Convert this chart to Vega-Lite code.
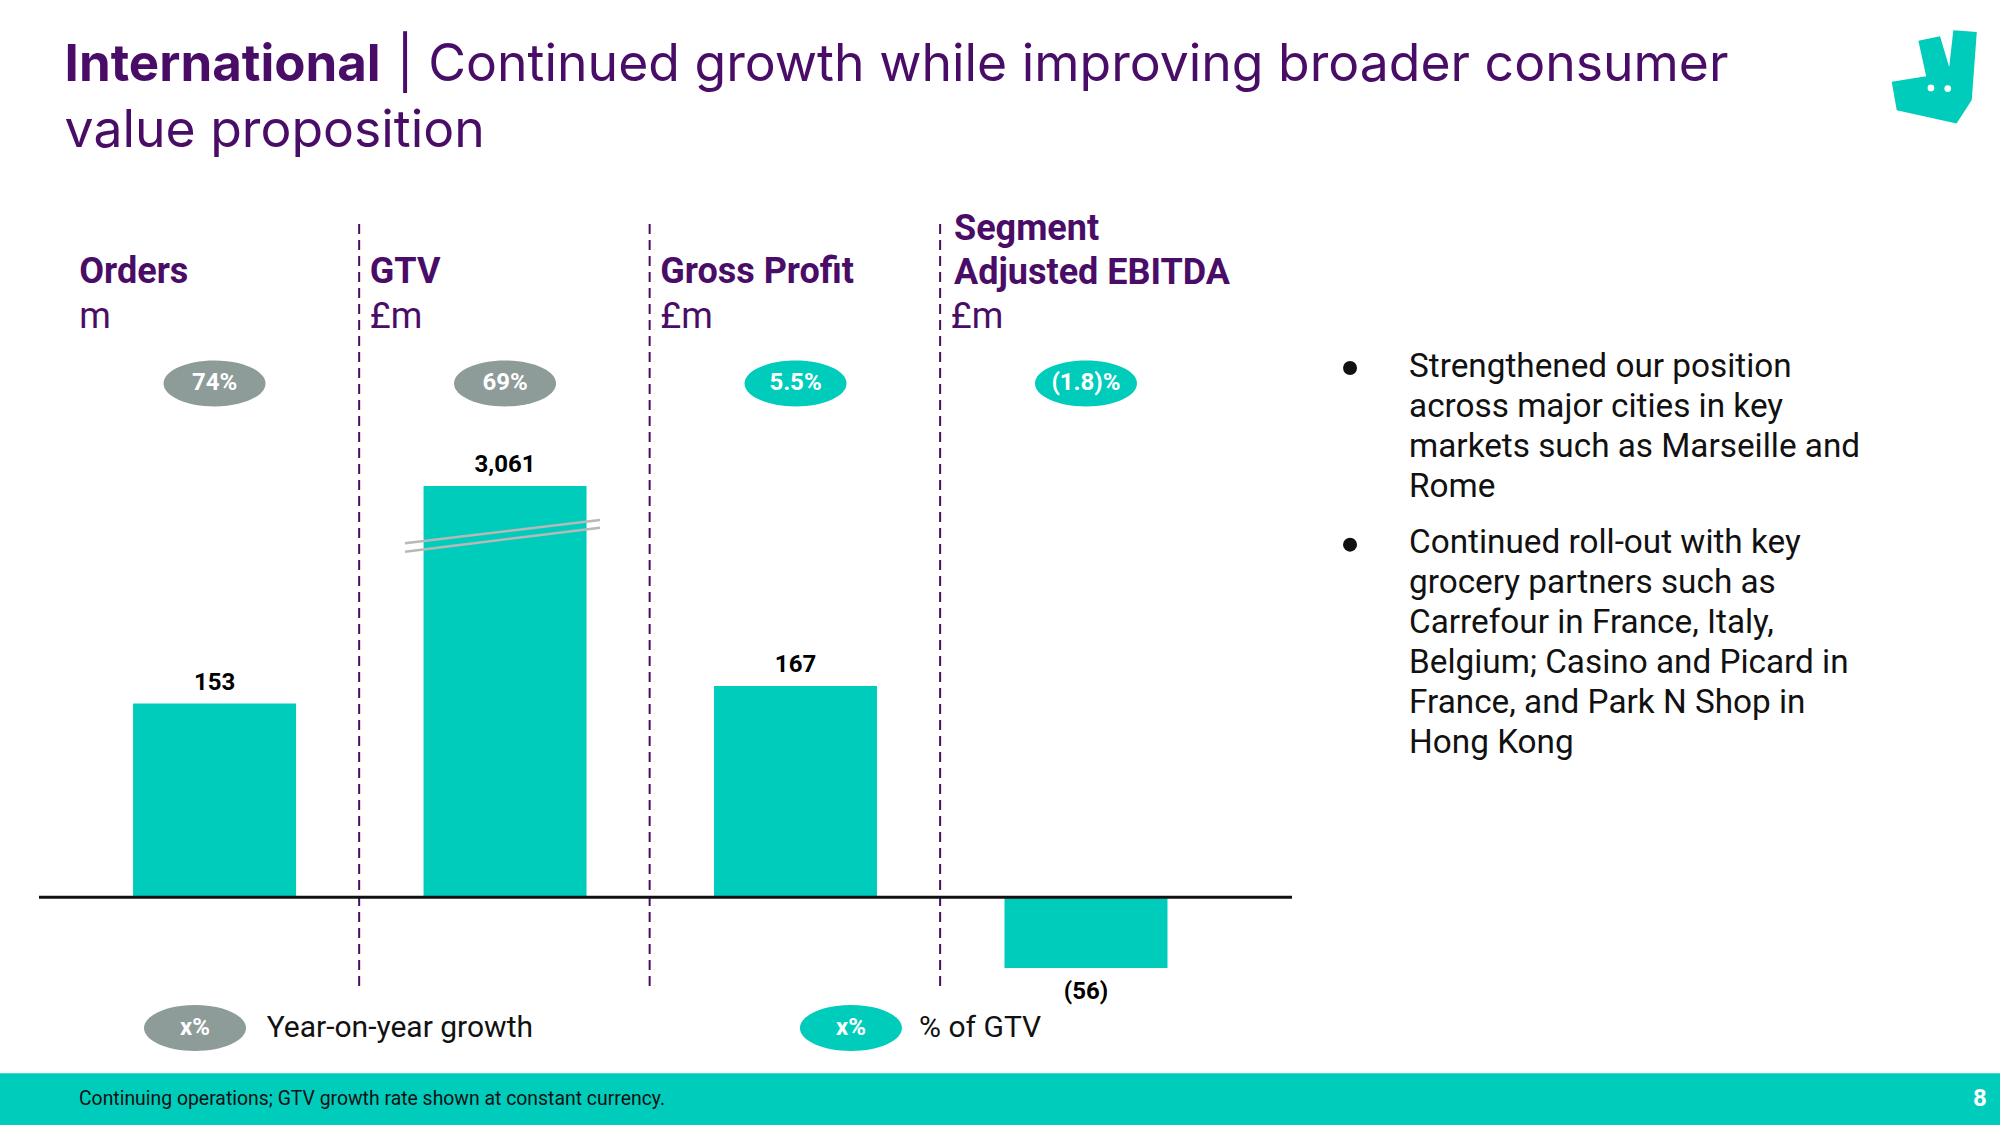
{
  "$schema": "https://vega.github.io/schema/vega-lite/v6.json",
  "width": 2000,
  "height": 1125,
  "autosize": {"type": "none"},
  "padding": 0,
  "background": "#ffffff",
  "config": {"view": {"stroke": null}, "font": "Roboto"},
  "datasets": {
    "metrics": [
      {"metric": "Orders", "header": ["Orders"], "unit": "m", "value": 153, "plotted": 153, "pill": "74%", "pillType": "Year-on-year growth"},
      {"metric": "GTV", "header": ["GTV"], "unit": "£m", "value": 3061, "plotted": 325, "pill": "69%", "pillType": "Year-on-year growth"},
      {"metric": "Gross Profit", "header": ["Gross Profit"], "unit": "£m", "value": 167, "plotted": 167, "pill": "5.5%", "pillType": "% of GTV"},
      {"metric": "Segment Adjusted EBITDA", "header": ["Segment", "Adjusted EBITDA"], "unit": "£m", "value": -56, "plotted": -56, "pill": "(1.8)%", "pillType": "% of GTV"}
    ]
  },
  "data": {"name": "metrics"},
  "layer": [
    {
      "data": {"values": [{"band": "footer"}]},
      "mark": {"type": "rect", "color": "#00CCBC"},
      "encoding": {
        "y": {"datum": -139.2, "type": "quantitative", "scale": {"domain": [-180, 709], "nice": false, "zero": false}, "axis": null},
        "y2": {"datum": -180}
      }
    },
    {
      "mark": {"type": "bar", "color": "#00CCBC"},
      "encoding": {
        "x": {"field": "metric", "type": "nominal", "sort": null, "axis": null,
              "scale": {"type": "band", "domain": ["Orders", "GTV", "Gross Profit", "Segment Adjusted EBITDA"], "range": [133.06, 1167.49], "paddingInner": 0.4389, "paddingOuter": 0, "align": 0.5}},
        "y": {"field": "plotted", "type": "quantitative"}
      }
    },
    {
      "data": {"values": [{"note": "Continuing operations; GTV growth rate shown at constant currency."}]},
      "mark": {"type": "text", "align": "left", "baseline": "alphabetic", "fontSize": 19.4, "color": "#111111"},
      "encoding": {
        "x": {"datum": "Orders", "type": "nominal", "bandPosition": -0.332},
        "y": {"datum": -164.2, "type": "quantitative"},
        "text": {"field": "note"}
      }
    },
    {
      "data": {"values": [{"page": "8"}]},
      "mark": {"type": "text", "align": "center", "baseline": "alphabetic", "fontSize": 24, "fontWeight": "bold", "color": "#ffffff"},
      "encoding": {
        "x": {"datum": "Segment Adjusted EBITDA", "type": "nominal", "bandPosition": 5.985},
        "y": {"datum": -164.8, "type": "quantitative"},
        "text": {"field": "page"}
      }
    },
    {
      "data": {"values": [{"t": "International"}]},
      "mark": {"type": "text", "align": "left", "baseline": "alphabetic", "font": "Inter", "fontSize": 51, "fontWeight": 700, "color": "#4a0d67"},
      "encoding": {
        "x": {"datum": "Orders", "type": "nominal", "bandPosition": -0.42},
        "y": {"datum": 645.0, "type": "quantitative"},
        "text": {"field": "t"}
      }
    },
    {
      "data": {"values": [{"t": "| Continued growth while improving broader consumer"}]},
      "mark": {"type": "text", "align": "left", "baseline": "alphabetic", "font": "Inter", "fontSize": 51.7, "fontWeight": 400, "color": "#4a0d67", "dx": 332},
      "encoding": {
        "x": {"datum": "Orders", "type": "nominal", "bandPosition": -0.42},
        "y": {"datum": 645.0, "type": "quantitative"},
        "text": {"field": "t"}
      }
    },
    {
      "data": {"values": [{"t": "value proposition"}]},
      "mark": {"type": "text", "align": "left", "baseline": "alphabetic", "font": "Inter", "fontSize": 51.7, "fontWeight": 400, "color": "#4a0d67"},
      "encoding": {
        "x": {"datum": "Orders", "type": "nominal", "bandPosition": -0.42},
        "y": {"datum": 593.0, "type": "quantitative"},
        "text": {"field": "t"}
      }
    },
    {
      "transform": [{"filter": "datum.metric !== 'Orders'"}],
      "mark": {"type": "rule", "color": "#4a0d67", "strokeWidth": 2, "strokeDash": [10, 6]},
      "encoding": {
        "x": {"field": "metric", "type": "nominal", "bandPosition": -0.395},
        "y": {"datum": 532, "type": "quantitative"},
        "y2": {"datum": -73}
      }
    },
    {
      "data": {"values": [{"line": "axis"}]},
      "mark": {"type": "rule", "color": "#111111", "strokeWidth": 3},
      "encoding": {
        "x": {"datum": "Orders", "type": "nominal", "bandPosition": -0.577},
        "x2": {"datum": "Segment Adjusted EBITDA", "bandPosition": 1.764},
        "y": {"datum": 0, "type": "quantitative"}
      }
    },
    {
      "data": {"values": [{"line": "break1"}]},
      "mark": {"type": "rule", "color": "#b8b8b8", "strokeWidth": 2.5},
      "encoding": {
        "x": {"datum": "GTV", "type": "nominal", "bandPosition": -0.114},
        "x2": {"datum": "GTV", "bandPosition": 1.083},
        "y": {"datum": 279.7, "type": "quantitative"},
        "y2": {"datum": 298.1}
      }
    },
    {
      "data": {"values": [{"line": "break2"}]},
      "mark": {"type": "rule", "color": "#b8b8b8", "strokeWidth": 2.5},
      "encoding": {
        "x": {"datum": "GTV", "type": "nominal", "bandPosition": -0.114},
        "x2": {"datum": "GTV", "bandPosition": 1.083},
        "y": {"datum": 273.0, "type": "quantitative"},
        "y2": {"datum": 292.0}
      }
    },
    {
      "transform": [{"filter": "datum.value > 0"}],
      "mark": {"type": "text", "align": "center", "baseline": "alphabetic", "fontSize": 24, "fontWeight": "bold", "color": "#000000", "dy": -14},
      "encoding": {
        "x": {"field": "metric", "type": "nominal"},
        "y": {"field": "plotted", "type": "quantitative"},
        "text": {"field": "value", "type": "quantitative", "format": "(,.0f"}
      }
    },
    {
      "transform": [{"filter": "datum.value < 0"}],
      "mark": {"type": "text", "align": "center", "baseline": "alphabetic", "fontSize": 24, "fontWeight": "bold", "color": "#000000", "dy": 31},
      "encoding": {
        "x": {"field": "metric", "type": "nominal"},
        "y": {"field": "plotted", "type": "quantitative"},
        "text": {"field": "value", "type": "quantitative", "format": "(,.0f"}
      }
    },
    {
      "mark": {"type": "point", "filled": true, "opacity": 1, "size": 10404, "shape": "M-1,0A1,0.45,0,1,1,1,0A1,0.45,0,1,1,-1,0Z"},
      "encoding": {
        "x": {"field": "metric", "type": "nominal"},
        "y": {"datum": 406, "type": "quantitative"},
        "color": {"field": "pillType", "type": "nominal",
                  "scale": {"domain": ["Year-on-year growth", "% of GTV"], "range": ["#8D9B99", "#00CCBC"]},
                  "legend": null}
      }
    },
    {
      "mark": {"type": "text", "align": "center", "baseline": "middle", "fontSize": 24, "fontWeight": "bold", "color": "#ffffff"},
      "encoding": {
        "x": {"field": "metric", "type": "nominal"},
        "y": {"datum": 406, "type": "quantitative"},
        "text": {"field": "pill"}
      }
    },
    {
      "transform": [{"filter": "length(datum.header) == 1"}],
      "mark": {"type": "text", "align": "left", "baseline": "alphabetic", "fontSize": 36, "fontWeight": "bold", "color": "#4a0d67", "lineHeight": 44},
      "encoding": {
        "x": {"field": "metric", "type": "nominal", "bandPosition": -0.33},
        "y": {"datum": 485.4, "type": "quantitative"},
        "text": {"field": "header"}
      }
    },
    {
      "transform": [{"filter": "length(datum.header) == 2"}],
      "mark": {"type": "text", "align": "left", "baseline": "alphabetic", "fontSize": 36, "fontWeight": "bold", "color": "#4a0d67", "lineHeight": 44},
      "encoding": {
        "x": {"field": "metric", "type": "nominal", "bandPosition": -0.31},
        "y": {"datum": 519.5, "type": "quantitative"},
        "text": {"field": "header"}
      }
    },
    {
      "mark": {"type": "text", "align": "left", "baseline": "alphabetic", "fontSize": 36, "fontWeight": "normal", "color": "#4a0d67"},
      "encoding": {
        "x": {"field": "metric", "type": "nominal", "bandPosition": -0.33},
        "y": {"datum": 450, "type": "quantitative"},
        "text": {"field": "unit"}
      }
    },
    {
      "data": {"values": [{"lines": ["Strengthened our position", "across major cities in key", "markets such as Marseille and", "Rome"]}]},
      "mark": {"type": "text", "align": "left", "baseline": "alphabetic", "fontSize": 33.3, "color": "#111111", "lineHeight": 40},
      "encoding": {
        "x": {"datum": "Segment Adjusted EBITDA", "type": "nominal", "bandPosition": 2.482},
        "y": {"datum": 411.3, "type": "quantitative"},
        "text": {"field": "lines"}
      }
    },
    {
      "data": {"values": [{"lines": ["Continued roll-out with key", "grocery partners such as", "Carrefour in France, Italy,", "Belgium; Casino and Picard in", "France, and Park N Shop in", "Hong Kong"]}]},
      "mark": {"type": "text", "align": "left", "baseline": "alphabetic", "fontSize": 33.3, "color": "#111111", "lineHeight": 40},
      "encoding": {
        "x": {"datum": "Segment Adjusted EBITDA", "type": "nominal", "bandPosition": 2.482},
        "y": {"datum": 271.8, "type": "quantitative"},
        "text": {"field": "lines"}
      }
    },
    {
      "data": {"values": [{"bullet": 1}]},
      "mark": {"type": "point", "shape": "circle", "filled": true, "opacity": 1, "size": 196, "color": "#111111"},
      "encoding": {
        "x": {"datum": "Segment Adjusted EBITDA", "type": "nominal", "bandPosition": 2.12},
        "y": {"datum": 418.2, "type": "quantitative"}
      }
    },
    {
      "data": {"values": [{"bullet": 2}]},
      "mark": {"type": "point", "shape": "circle", "filled": true, "opacity": 1, "size": 196, "color": "#111111"},
      "encoding": {
        "x": {"datum": "Segment Adjusted EBITDA", "type": "nominal", "bandPosition": 2.12},
        "y": {"datum": 278.6, "type": "quantitative"}
      }
    },
    {
      "data": {"values": [{"pillType": "Year-on-year growth", "sample": "x%"}]},
      "mark": {"type": "point", "filled": true, "opacity": 1, "size": 10404, "shape": "M-1,0A1,0.45,0,1,1,1,0A1,0.45,0,1,1,-1,0Z"},
      "encoding": {
        "x": {"datum": "Orders", "type": "nominal", "bandPosition": 0.38},
        "y": {"datum": -103.4, "type": "quantitative"},
        "color": {"field": "pillType", "type": "nominal"}
      }
    },
    {
      "data": {"values": [{"pillType": "Year-on-year growth", "sample": "x%"}]},
      "mark": {"type": "text", "align": "center", "baseline": "middle", "fontSize": 24, "fontWeight": "bold", "color": "#ffffff"},
      "encoding": {
        "x": {"datum": "Orders", "type": "nominal", "bandPosition": 0.38},
        "y": {"datum": -103.4, "type": "quantitative"},
        "text": {"field": "sample"}
      }
    },
    {
      "data": {"values": [{"pillType": "Year-on-year growth", "sample": "x%"}]},
      "mark": {"type": "text", "align": "left", "baseline": "middle", "fontSize": 30, "color": "#111111"},
      "encoding": {
        "x": {"datum": "Orders", "type": "nominal", "bandPosition": 0.82},
        "y": {"datum": -103.4, "type": "quantitative"},
        "text": {"field": "pillType"}
      }
    },
    {
      "data": {"values": [{"pillType": "% of GTV", "sample": "x%"}]},
      "mark": {"type": "point", "filled": true, "opacity": 1, "size": 10404, "shape": "M-1,0A1,0.45,0,1,1,1,0A1,0.45,0,1,1,-1,0Z"},
      "encoding": {
        "x": {"datum": "Gross Profit", "type": "nominal", "bandPosition": 0.84},
        "y": {"datum": -103.4, "type": "quantitative"},
        "color": {"field": "pillType", "type": "nominal"}
      }
    },
    {
      "data": {"values": [{"pillType": "% of GTV", "sample": "x%"}]},
      "mark": {"type": "text", "align": "center", "baseline": "middle", "fontSize": 24, "fontWeight": "bold", "color": "#ffffff"},
      "encoding": {
        "x": {"datum": "Gross Profit", "type": "nominal", "bandPosition": 0.84},
        "y": {"datum": -103.4, "type": "quantitative"},
        "text": {"field": "sample"}
      }
    },
    {
      "data": {"values": [{"pillType": "% of GTV", "sample": "x%"}]},
      "mark": {"type": "text", "align": "left", "baseline": "middle", "fontSize": 30, "color": "#111111"},
      "encoding": {
        "x": {"datum": "Gross Profit", "type": "nominal", "bandPosition": 1.258},
        "y": {"datum": -103.4, "type": "quantitative"},
        "text": {"field": "pillType"}
      }
    },
    {
      "data": {"values": [{"logo": "Deliveroo"}]},
      "mark": {"type": "point", "filled": true, "opacity": 1, "color": "#00CCBC", "size": 8464,
               "shape": "M0.42,-1.02L0.93,-0.98L0.82,0.5L0.49,1.01L-0.81,0.72L-0.92,0.1L-0.17,-0.02L-0.34,-0.79L0.13,-0.89L0.33,-0.22Z"},
      "encoding": {
        "x": {"datum": "Segment Adjusted EBITDA", "type": "nominal", "bandPosition": 5.703},
        "y": {"datum": 648.1, "type": "quantitative"}
      }
    },
    {
      "data": {"values": [{"eye": "left"}]},
      "mark": {"type": "point", "shape": "circle", "filled": true, "opacity": 1, "color": "#ffffff", "size": 45},
      "encoding": {
        "x": {"datum": "Segment Adjusted EBITDA", "type": "nominal", "bandPosition": 5.684},
        "y": {"datum": 639.5, "type": "quantitative"}
      }
    },
    {
      "data": {"values": [{"eye": "right"}]},
      "mark": {"type": "point", "shape": "circle", "filled": true, "opacity": 1, "color": "#ffffff", "size": 45},
      "encoding": {
        "x": {"datum": "Segment Adjusted EBITDA", "type": "nominal", "bandPosition": 5.787},
        "y": {"datum": 639.0, "type": "quantitative"}
      }
    }
  ]
}
